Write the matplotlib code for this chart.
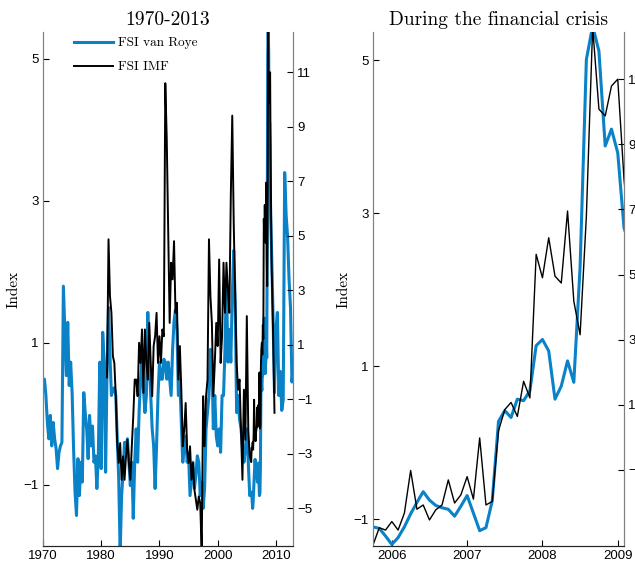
import numpy as np
import matplotlib.pyplot as plt

plt.rcParams['font.family'] = ['Liberation Sans', 'DejaVu Sans']

# --------------------------- DATA ---------------------------
# FSI van Roye, quarterly 1970Q1 - 2005Q3
roye_q = [0.35, 0.49, 0.26, -0.12,
          -0.35, -0.02, -0.45, -0.12,
          -0.35, -0.49, -0.77, -0.54,
          -0.45, -0.40, 1.80, 1.19,
          0.54, 1.29, 0.40, 0.73,
          0.30, -0.49, -1.10, -1.43,
          -0.63, -1.15, -0.68, -0.96,
          0.30, 0.02, -0.21, -0.63,
          -0.02, -0.45, -0.17, -0.68,
          -0.59, -1.05, -0.59, 0.73,
          -0.77, 1.15, 0.73, -0.82,
          0.63, 1.50, 0.82, 0.26,
          0.35, 0.37, 0.26, -0.35,
          -0.91, -1.95, -1.15, -0.82,
          -0.40, -0.49, -0.35, -0.68,
          -1.01, -0.68, -1.47, -0.68,
          -0.21, -0.68, 0.02, 0.49,
          0.73, 0.35, 0.02, 0.26,
          1.43, 0.73, 0.26, -0.21,
          -0.45, -1.05, -0.45, 0.26,
          0.73, 0.49, 0.49, 0.77,
          0.73, 0.49, 0.73, 0.49,
          0.26, 0.90, 1.30, 1.47,
          1.19, 0.26, 0.49, -0.12,
          -0.68, -0.45, -0.31, -0.68,
          -0.59, -1.15, -0.91, -0.68,
          -1.05, -0.87, -0.59, -0.68,
          -1.15, -0.96, -1.33, -1.05,
          -0.21, 0.02, 0.26, 0.91,
          0.73, -0.21, 0.26, -0.31,
          -0.45, -0.21, -0.54, 0.26,
          0.26, 0.91, 1.90, 0.73,
          1.19, 0.73, 1.66, 2.30,
          1.60, 0.02, 0.26, -0.07,
          -0.21, -0.45, -0.68, -0.49,
          -0.21, -0.68, -1.15]

# FSI van Roye, monthly Oct 2005 - Feb 2009
roye_m = [-1.10, -1.12, -1.22, -1.33, -1.24, -1.10, -0.93, -0.78, -0.64, -0.75,
          -0.82, -0.85, -0.87, -0.96, -0.83, -0.69, -0.92, -1.15, -1.11, -0.76,
          0.28, 0.42, 0.33, 0.57, 0.55, 0.68, 1.27, 1.35, 1.20, 0.57,
          0.74, 1.07, 0.79, 2.30, 5.01, 5.45, 5.12, 3.88, 4.10, 3.79,
          2.81]

# FSI van Roye, 2009Q2 - end of 2012
roye_tail_t = [2009.25, 2009.5, 2009.75, 2010.0, 2010.25, 2010.5, 2010.75, 2011.0,
               2011.25, 2011.5, 2011.75, 2012.0, 2012.25, 2012.5, 2012.75, 2012.917]
roye_tail = [2.30, 1.40, 0.30, 1.19, 1.43, 0.26, 0.60, 0.05,
             0.20, 3.40, 2.80, 2.50, 1.90, 1.50, 0.45, 0.60]

# FSI IMF, quarterly 1981Q1 - 2005Q3
imf_q = [-0.20, 4.87, 2.79, 2.17,
         0.58, 0.33, -0.89, -2.61,
         -3.34, -2.61, -3.96, -3.10,
         -3.96, -3.10, -2.49, -3.34,
         -3.96, -2.73, -1.63, -0.28,
         -0.28, -0.89, 1.07, 0.33,
         1.56, -0.77, 1.56, 0.33,
         -0.28, 1.80, 0.33, -0.89,
         0.95, 1.31, 2.17, 0.33,
         1.31, 0.33, 1.56, 1.31,
         10.60, 8.55, 5.24, 1.80,
         4.01, 3.40, 4.80, 2.17,
         2.54, -0.28, 0.95, -0.65,
         -2.73, -2.12, -1.14, -2.85,
         -3.34, -2.73, -3.96, -3.34,
         -4.32, -4.69, -5.06, -4.57,
         -4.82, -6.60, -0.89, -2.73,
         -0.89, -0.28, 4.87, 2.79,
         1.80, -0.89, 0.33, 1.80,
         0.95, 4.13, 0.33, 1.31,
         4.01, 2.17, 4.01, 3.03,
         2.17, 6.46, 9.41, 5.48,
         2.79, 0.33, -0.65, -0.28,
         -2.12, -3.96, -0.65, -2.49,
         2.05, -2.12, -3.10]

# FSI IMF, monthly Oct 2005 - Feb 2009
imf_m = [-3.31, -2.78, -2.85, -2.59, -2.85, -2.33, -1.02, -2.21, -2.08, -2.54,
         -2.23, -2.08, -1.31, -2.02, -1.77, -1.21, -1.90, -0.02, -2.08, -1.97,
         0.20, 0.85, 1.07, 0.64, 1.72, 1.21, 5.62, 4.90, 6.13, 4.95,
         4.74, 6.95, 4.18, 3.15, 6.79, 12.60, 10.08, 9.87, 10.79, 11.00,
         7.92]

imf_tail_t = [2009.25, 2009.5, 2009.75]
imf_tail = [4.01, 1.56, -1.50]

# --------------------------- SERIES ---------------------------
t_month = 2005.75 + np.arange(len(roye_m)) / 12
t_roye = np.concatenate([1970 + 0.25 * np.arange(len(roye_q)), t_month, roye_tail_t])
y_roye = np.concatenate([roye_q, roye_m, roye_tail])
t_imf = np.concatenate([1981 + 0.25 * np.arange(len(imf_q)), t_month, imf_tail_t])
y_imf = np.concatenate([imf_q, imf_m, imf_tail])

blue = '#0a82c8'
serif = 'cmr10'
W, H = 635, 566


def panel(rect, title, xlim, xticks, ylim_l, yticks_l, ylim_r, yticks_r, lw_imf, legend=False):
    ax = fig.add_axes(rect)
    ax2 = ax.twinx()
    l1, = ax.plot(t_roye, y_roye, color=blue, lw=2.2, label='FSI van Roye')
    l2, = ax2.plot(t_imf, y_imf, color='black', lw=lw_imf, label='FSI IMF')
    ax.set_xlim(*xlim)
    ax.set_ylim(*ylim_l)
    ax2.set_ylim(*ylim_r)
    ax.set_xticks(xticks)
    ax.set_yticks(yticks_l)
    ax2.set_yticks(yticks_r)
    for a in (ax, ax2):
        a.spines['top'].set_visible(False)
        a.spines['left'].set_color('#808080')
        a.spines['right'].set_color('#808080')
        a.spines['bottom'].set_color('#262626')
        a.tick_params(direction='in', length=4, width=0.8, labelsize=9.5, pad=3)
    ax.set_title(title, fontfamily=serif, fontsize=14, pad=5)
    ax.set_ylabel('Index', fontfamily=serif, fontsize=11, labelpad=2)
    if legend:
        ax2.legend(handles=[l1, l2], loc='upper left', bbox_to_anchor=(0.124, 0.99),
                   frameon=False, prop={'family': serif, 'size': 9.5},
                   handlelength=2.95, handletextpad=0.4, borderpad=0,
                   borderaxespad=0, labelspacing=0.9)
    return ax, ax2


fig = plt.figure(figsize=(W / 100, H / 100), dpi=100)
panel([43 / W, 20 / H, 250 / W, 514 / H], '1970-2013', (1970, 2012.93),
      [1970, 1980, 1990, 2000, 2010], (-1.86, 5.38), [-1, 1, 3, 5],
      (-6.39, 12.48), [-5, -3, -1, 1, 3, 5, 7, 9, 11], 1.4, legend=True)
panel([373 / W, 20 / H, 251 / W, 514 / H], 'During the financial crisis', (2005.75, 2009.083),
      [2006, 2007, 2008, 2009], (-1.35, 5.37), [-1, 1, 3, 5],
      (-3.34, 12.45), [-1, 1, 3, 5, 7, 9, 11], 1.0)

fig.savefig('out.png', dpi=100)
